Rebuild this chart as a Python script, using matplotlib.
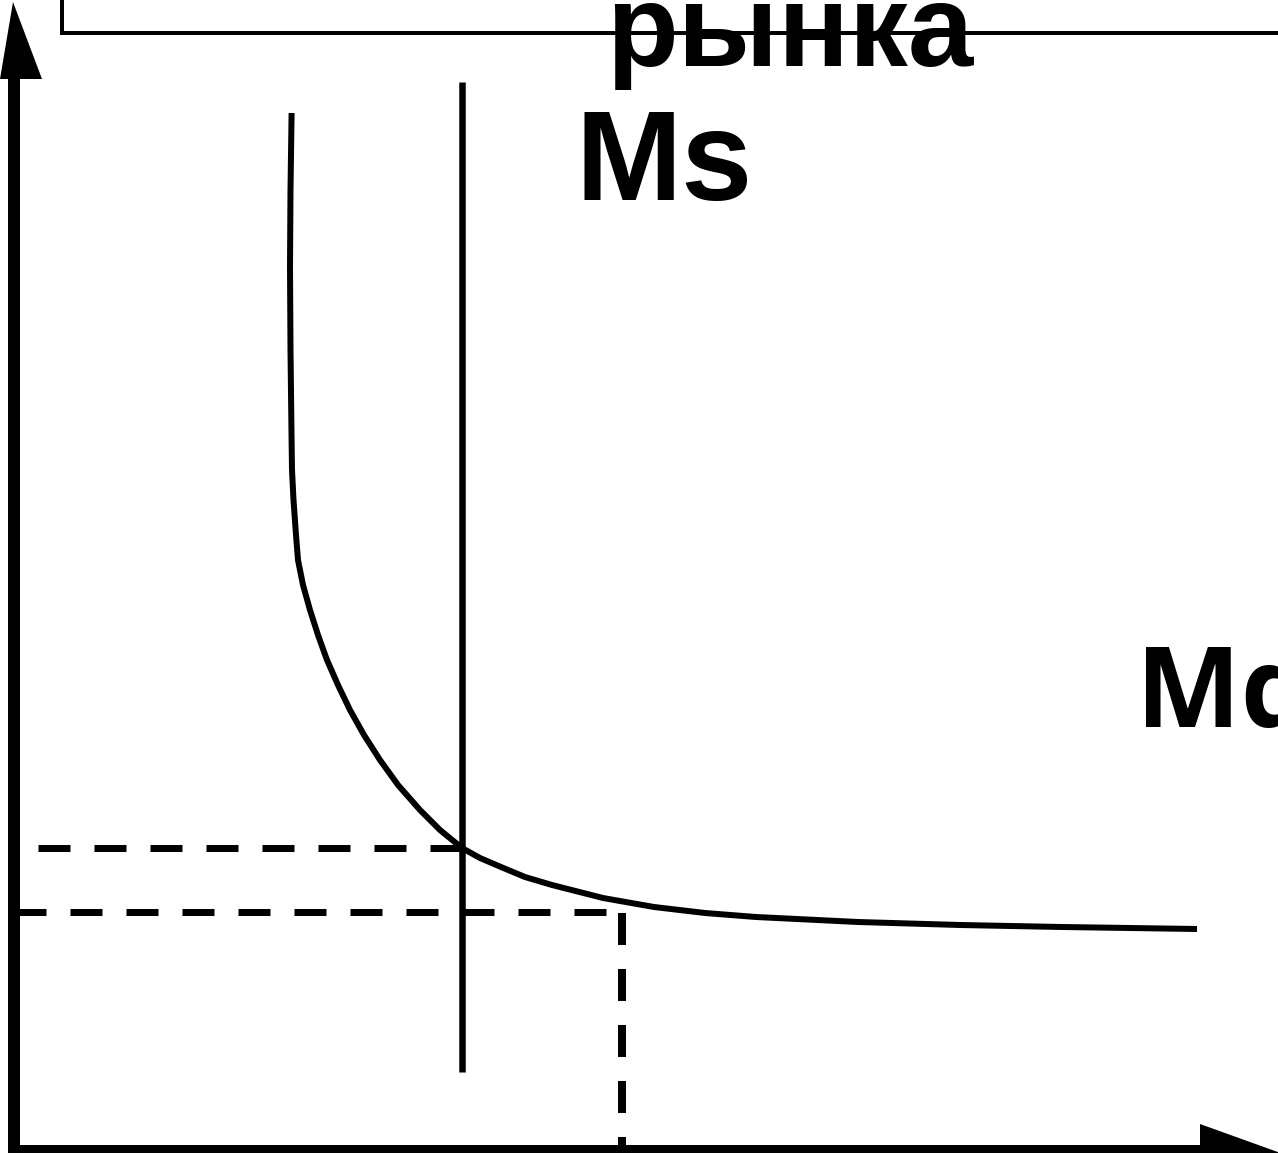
import matplotlib
matplotlib.use("Agg")
import matplotlib.pyplot as plt
from matplotlib.patches import Polygon

plt.rcParams['lines.scale_dashes'] = False

W, H, DPI = 1278, 1153, 100
PX = 72.0 / DPI  # points per pixel

# ---- data (diagram coordinates, y measured downward) ----
# Money demand curve Md
md_x = [291.6, 290.5, 290.0, 290.5, 291.5, 292.0, 293.5, 296.0, 298.0, 303.0,
        310.0, 318.0, 327.0, 338.0, 350.0, 364.0, 380.0, 398.0, 420.0, 440.0,
        462.0, 480.0, 501.0, 525.0, 552.0, 603.0, 654.0, 705.0, 756.0, 858.0,
        960.0, 1062.0, 1197.0]
md_y = [113.0, 190.0, 267.0, 350.0, 433.0, 470.0, 500.0, 535.0, 560.0, 585.0,
        610.0, 635.0, 660.0, 685.0, 710.0, 735.0, 760.0, 785.0, 810.0, 830.0,
        848.0, 858.0, 867.0, 877.0, 885.0, 898.0, 907.0, 913.0, 917.0, 922.0,
        925.0, 927.0, 929.0]
# Money supply Ms (vertical)
ms_x = [462.0, 462.0]
ms_y = [82.0, 1072.0]
# Equilibrium guide lines
eq1_x = [38.0, 462.0]
eq1_y = [848.0, 848.0]
eq2_x = [14.0, 606.0]
eq2_y = [912.0, 912.0]
eq2v_x = [622.0, 622.0]
eq2v_y = [913.0, 1153.0]
# Axes
yaxis_x = [14.0, 14.0]
yaxis_y = [78.0, 1153.0]
xaxis_x = [8.0, 1202.0]
xaxis_y = [1149.0, 1149.0]
yarrow = [(0.0, 79.0), (42.0, 79.0), (13.0, 2.0)]
xarrow = [(1200.0, 1124.0), (1200.0, 1160.0), (1300.0, 1160.0)]
# Title frame
frame_x = [62.0, 62.0, 1278.0]
frame_y = [-5.0, 33.0, 33.0]

labels = {"title": "рынка", "ms": "Ms", "md": "Md"}

fig = plt.figure(figsize=(W / DPI, H / DPI), dpi=DPI)
ax = fig.add_axes([0, 0, 1, 1])
ax.set_xlim(0, W)
ax.set_ylim(H, 0)
ax.axis('off')

k = 'black'
ax.plot(frame_x, frame_y, color=k, lw=4 * PX, solid_joinstyle='miter')
ax.plot(yaxis_x, yaxis_y, color=k, lw=12 * PX, solid_capstyle='butt')
ax.plot(xaxis_x, xaxis_y, color=k, lw=9 * PX, solid_capstyle='butt')
ax.add_patch(Polygon(yarrow, closed=True, color=k, lw=0))
ax.add_patch(Polygon(xarrow, closed=True, color=k, lw=0))

dash = (0, (32 * PX, 24 * PX))
for xs, ys in [(eq1_x, eq1_y), (eq2_x, eq2_y)]:
    ax.plot(xs, ys, color=k, lw=7 * PX, linestyle=dash, dash_capstyle='butt')
ax.plot(eq2v_x, eq2v_y, color=k, lw=8 * PX, linestyle=dash, dash_capstyle='butt')

ax.plot(ms_x, ms_y, color=k, lw=6.5 * PX, solid_capstyle='butt')
ax.plot(md_x, md_y, color=k, lw=6 * PX, solid_capstyle='butt', solid_joinstyle='round')

ax.text(606, 66, labels["title"], fontsize=84.5, fontweight='bold',
        family=['Liberation Sans', 'DejaVu Sans'], ha='left', va='baseline', color=k)
ax.text(576, 200, labels["ms"], fontsize=92, fontweight='bold',
        family=['Liberation Sans', 'DejaVu Sans'], ha='left', va='baseline', color=k)
ax.text(1136, 727, labels["md"], fontsize=80, fontweight='bold',
        family=['Open Sans', 'DejaVu Sans'], ha='left', va='baseline', color=k)

fig.savefig("out.png", dpi=DPI, facecolor='white')
